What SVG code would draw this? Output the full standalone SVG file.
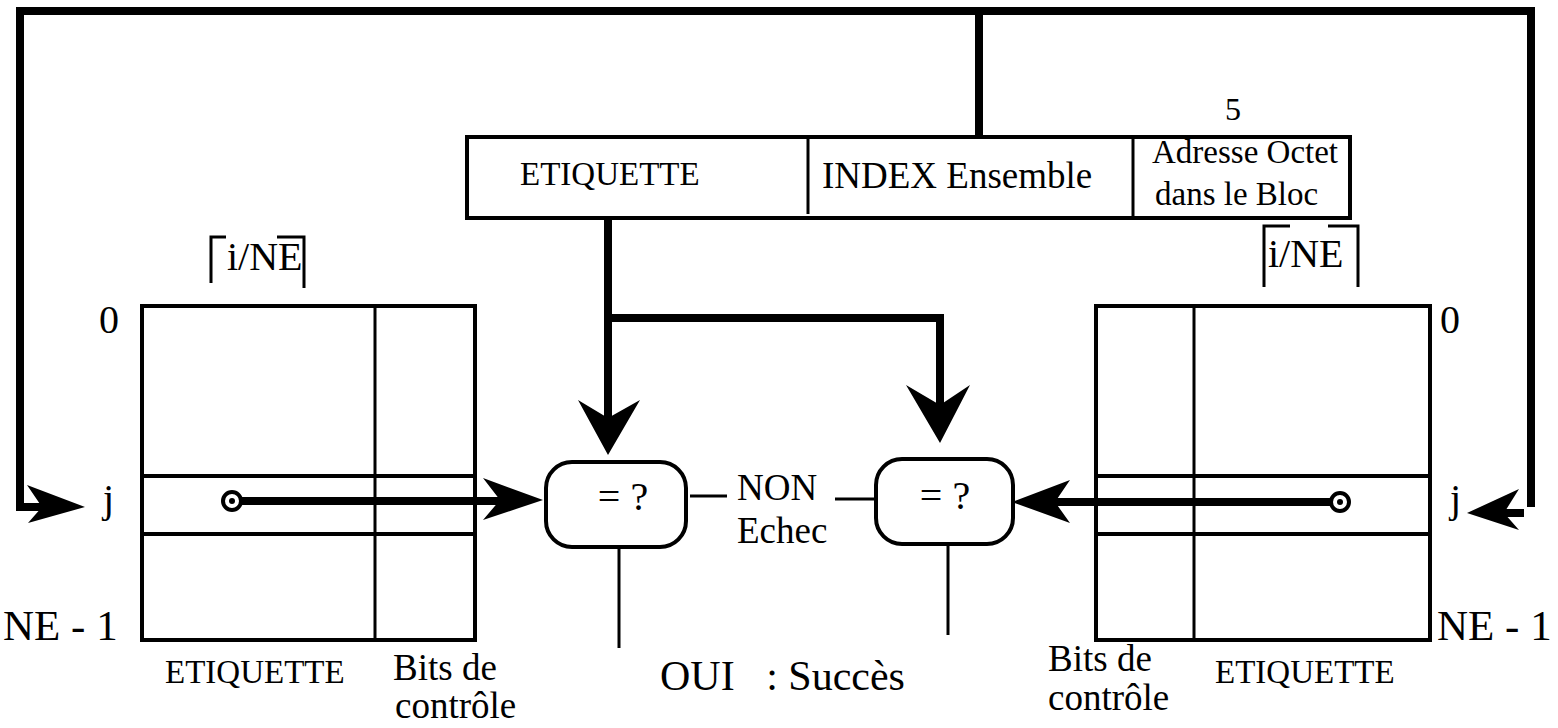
<svg xmlns="http://www.w3.org/2000/svg" width="1558" height="728" viewBox="0 0 1558 728">
<style>
text{font-family:"Liberation Serif","Times New Roman",serif;fill:#000;white-space:pre}
.f40{font-size:40px}
.f37{font-size:37px}
.f33{font-size:33px}
.thick{stroke:#000;stroke-width:8;fill:none}
.box{stroke:#000;stroke-width:4;fill:none}
.thin{stroke:#000;stroke-width:3;fill:none}
.head{fill:#000;stroke:none}
</style>
<rect width="1558" height="728" fill="#fff"/>
<g id="connectors">
<polyline class="thick" points="979,137 979,11 20,11 20,507 45,507"/>
<polygon class="head" points="85,507 27,485 42,507 28,523"/>
<polyline class="thick" points="979,11 1531,11 1531,507"/>
<line class="thick" x1="1503" y1="513" x2="1524" y2="513"/>
<polygon class="head" points="1467,513 1519,489 1504,513 1519,530"/>
<polyline class="thick" points="608,219 608,318 940,318 940,410"/>
<line class="thick" x1="608" y1="318" x2="608" y2="420"/>
<polygon class="head" points="608,455 578,400 608,418 640,400"/>
<polygon class="head" points="940,443 906,385 940,405 970,385"/>
<line class="thick" x1="232" y1="501" x2="505" y2="501"/>
<polygon class="head" points="543,500 483,478 500,500 483,520"/>
<line class="thick" x1="1050" y1="502" x2="1340" y2="502"/>
<polygon class="head" points="1012,502 1070,480 1055,502 1070,523"/>
<line class="thin" x1="690" y1="496" x2="727" y2="496"/>
<line class="thin" x1="835" y1="499" x2="876" y2="499"/>
<line class="thin" x1="619" y1="547" x2="619" y2="648"/>
<line class="thin" x1="948" y1="545" x2="948" y2="635"/>
</g>
<g id="address">
<rect class="box" x="467" y="137" width="883" height="81"/>
<line class="thin" x1="808" y1="137" x2="808" y2="214"/>
<line class="thin" x1="1133" y1="135" x2="1133" y2="217"/>
<text class="f33" x="520" y="185">ETIQUETTE</text>
<text class="f37" x="822" y="188">INDEX Ensemble</text>
<text class="f33" x="1152" y="163">Adresse Octet</text>
<text class="f33" x="1155" y="205">dans le Bloc</text>
<text x="1233" y="120" text-anchor="middle" style="font-size:32px">5</text>
</g>
<g id="cache-left">
<rect class="box" x="142" y="306" width="333" height="334"/>
<line class="box" x1="142" y1="476" x2="475" y2="476"/>
<line class="box" x1="142" y1="534" x2="475" y2="534"/>
<line class="thin" x1="375" y1="306" x2="375" y2="642"/>
<circle cx="232" cy="501" r="9" fill="#fff" stroke="#000" stroke-width="4"/>
<circle cx="232" cy="501" r="3" fill="#000"/>
<text class="f40" x="99" y="333">0</text>
<text class="f40" x="103" y="512">j</text>
<text x="3" y="640" style="font-size:43px">NE - 1</text>
<text class="f33" x="165" y="683">ETIQUETTE</text>
<text class="f37" x="393" y="680">Bits de</text>
<text class="f37" x="395" y="718">contrôle</text>
<polyline class="thin" points="211,283 211,237 226,237"/>
<polyline class="thin" points="277,237 304,237 304,288"/>
<text class="f40" x="227" y="270">i/NE</text>
</g>
<g id="cache-right">
<rect class="box" x="1096" y="306" width="334" height="334"/>
<line class="box" x1="1096" y1="476" x2="1430" y2="476"/>
<line class="box" x1="1096" y1="534" x2="1430" y2="534"/>
<line class="thin" x1="1194" y1="306" x2="1194" y2="642"/>
<circle cx="1340" cy="502" r="9" fill="#fff" stroke="#000" stroke-width="4"/>
<circle cx="1340" cy="502" r="3" fill="#000"/>
<text class="f40" x="1440" y="333">0</text>
<text class="f40" x="1450" y="512">j</text>
<text x="1437" y="640" style="font-size:43px">NE - 1</text>
<text class="f33" x="1215" y="683">ETIQUETTE</text>
<text class="f37" x="1048" y="671">Bits de</text>
<text class="f37" x="1048" y="710">contrôle</text>
<polyline class="thin" points="1264,287 1264,226 1290,226"/>
<polyline class="thin" points="1328,226 1358,226 1358,287"/>
<text class="f40" x="1268" y="267">i/NE</text>
</g>
<g id="comp-left">
<rect class="box" x="546" y="462" width="140" height="85" rx="26"/>
<text class="f40" x="623" y="510" text-anchor="middle">= ?</text>
</g>
<g id="comp-right">
<rect class="box" x="876" y="459" width="137" height="85" rx="26"/>
<text class="f40" x="945" y="509" text-anchor="middle">= ?</text>
</g>
<g id="labels">
<text class="f37" x="737" y="500">NON</text>
<text class="f37" x="737" y="543">Echec</text>
<text x="660" y="690" style="font-size:42px">OUI   : Succès</text>
</g>
</svg>
